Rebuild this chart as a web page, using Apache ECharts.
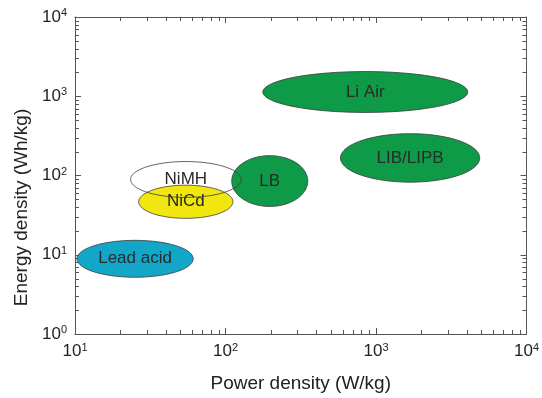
<!DOCTYPE html>
<html>
<head>
<meta charset="utf-8">
<script src="https://cdn.jsdelivr.net/npm/echarts@6/dist/echarts.min.js"></script>
<style>html,body{margin:0;padding:0;background:#fff;}#c{width:542px;height:398px;}</style>
</head>
<body>
<div id="c"></div>
<script>
// Battery technologies: power density range (W/kg) and energy density range (Wh/kg)
var names   = ['Lead acid', 'NiCd', 'LB', 'Li Air', 'LIB/LIPB', 'NiMH'];
var powMin  = [10.3, 26.5, 110, 177, 581, 23.4];
var powMax  = [61, 112, 352, 4070, 4890, 127];
var engMin  = [5.2, 28.8, 40.7, 625, 82.4, 52.9];
var engMax  = [15.2, 75.5, 178, 2050, 337, 150];
var fills   = ['#12A7C8', '#F1E60E', '#0F9A48', '#0F9A48', '#0F9A48', 'none'];
var xDecades = [10, 100, 1000];
var yDecades = [1, 10, 100, 1000];
var minorSteps = [2, 3, 4, 5, 6, 7, 8, 9];

var ellData = names.map(function (n, i) {
  return { name: n, value: [powMin[i], powMax[i], engMin[i], engMax[i], i] };
});
var minorData = [];
xDecades.forEach(function (d) { minorSteps.forEach(function (m) { minorData.push([d * m, 1, 0]); }); });
yDecades.forEach(function (d) { minorSteps.forEach(function (m) { minorData.push([10, d * m, 1]); }); });

var axisColor = '#555';
var labelFmt = function (v) { return '10{sup|' + Math.round(Math.log10(v)) + '}'; };
var rich = { sup: { fontSize: 11, color: '#222', fontFamily: 'Liberation Sans', padding: [0, 0, 8, 0], verticalAlign: 'bottom' } };

var chart = echarts.init(document.getElementById('c'), null, { renderer: 'canvas' });
chart.setOption({
  animation: false,
  backgroundColor: '#fff',
  grid: { left: 75, right: 13, top: 17, bottom: 63 },
  xAxis: [{
    type: 'log', logBase: 10, min: 10, max: 10000, position: 'bottom',
    name: 'Power density (W/kg)', nameLocation: 'middle', nameGap: 40,
    nameTextStyle: { fontSize: 19, color: '#222', fontFamily: 'Liberation Sans' },
    axisLine: { show: true, lineStyle: { color: axisColor, width: 1 } },
    axisTick: { show: true, inside: true, length: 6, lineStyle: { color: axisColor } },
    splitLine: { show: false },
    axisLabel: { formatter: labelFmt, rich: rich, fontSize: 17, color: '#222', fontFamily: 'Liberation Sans', margin: 8 }
  }, {
    type: 'log', logBase: 10, min: 10, max: 10000, position: 'top',
    axisLine: { show: true, lineStyle: { color: axisColor, width: 1 } },
    axisTick: { show: true, inside: true, length: 6, lineStyle: { color: axisColor } },
    splitLine: { show: false }, axisLabel: { show: false }
  }],
  yAxis: [{
    type: 'log', logBase: 10, min: 1, max: 10000, position: 'left',
    name: 'Energy density (Wh/kg)', nameLocation: 'middle', nameGap: 44,
    nameTextStyle: { fontSize: 19, color: '#222', fontFamily: 'Liberation Sans', padding: [0, 64, 0, 0] },
    axisLine: { show: true, lineStyle: { color: axisColor, width: 1 } },
    axisTick: { show: true, inside: true, length: 6, lineStyle: { color: axisColor } },
    splitLine: { show: false },
    axisLabel: { formatter: labelFmt, rich: rich, fontSize: 17, color: '#222', fontFamily: 'Liberation Sans', margin: 8 }
  }, {
    type: 'log', logBase: 10, min: 1, max: 10000, position: 'right',
    axisLine: { show: true, lineStyle: { color: axisColor, width: 1 } },
    axisTick: { show: true, inside: true, length: 6, lineStyle: { color: axisColor } },
    splitLine: { show: false }, axisLabel: { show: false }
  }],
  series: [{
    type: 'custom', xAxisIndex: 0, yAxisIndex: 0, clip: false, silent: true,
    data: minorData,
    renderItem: function (params, api) {
      var t = api.value(2);
      var len = 4, st = { stroke: axisColor, lineWidth: 1 };
      if (t === 0) {
        var v = api.value(0);
        var b = api.coord([v, 1]), tp = api.coord([v, 10000]);
        var x = Math.round(b[0]) + 0.5;
        return { type: 'group', children: [
          { type: 'line', shape: { x1: x, y1: b[1], x2: x, y2: b[1] - len }, style: st },
          { type: 'line', shape: { x1: x, y1: tp[1], x2: x, y2: tp[1] + len }, style: st }
        ] };
      } else {
        var w = api.value(1);
        var l = api.coord([10, w]), r = api.coord([10000, w]);
        var y = Math.round(l[1]) + 0.5;
        return { type: 'group', children: [
          { type: 'line', shape: { x1: l[0], y1: y, x2: l[0] + len, y2: y }, style: st },
          { type: 'line', shape: { x1: r[0], y1: y, x2: r[0] - len, y2: y }, style: st }
        ] };
      }
    }
  }, {
    type: 'custom', xAxisIndex: 0, yAxisIndex: 0, clip: false, silent: true,
    data: ellData,
    encode: { x: [0, 1], y: [2, 3] },
    renderItem: function (params, api) {
      var i = api.value(4);
      var p1 = api.coord([api.value(0), api.value(2)]);
      var p2 = api.coord([api.value(1), api.value(3)]);
      var cx = (p1[0] + p2[0]) / 2, cy = (p1[1] + p2[1]) / 2;
      var rx = Math.abs(p2[0] - p1[0]) / 2, ry = Math.abs(p2[1] - p1[1]) / 2;
      var pts = [];
      for (var k = 0; k < 120; k++) {
        var a = k / 120 * Math.PI * 2;
        pts.push([cx + rx * Math.cos(a), cy + ry * Math.sin(a)]);
      }
      var fill = fills[i];
      return { type: 'group', children: [
        { type: 'polygon', shape: { points: pts },
          style: { fill: fill === 'none' ? null : fill, stroke: '#3a3a3a', lineWidth: 0.8 } },
        { type: 'text', x: cx, y: cy,
          style: { text: names[i], fill: '#2a2a2a', fontSize: 17, fontFamily: 'Liberation Sans',
                   align: 'center', verticalAlign: 'middle' } }
      ] };
    }
  }]
});
</script>
</body>
</html>
